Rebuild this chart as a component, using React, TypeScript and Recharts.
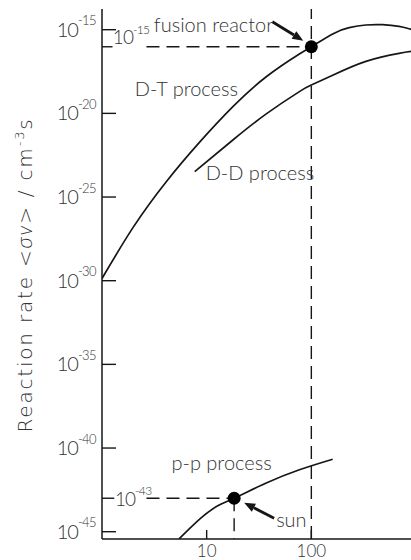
import React from "react";
import { LineChart, Line, XAxis, YAxis, ReferenceLine, ReferenceDot, Label } from "recharts";

// temperatures in keV, rates as log10 of <σv> in cm³/s
const dtTemp = [1, 1.99, 4.13, 8.57, 17.8, 37.1, 76.9, 100, 160, 230, 332, 478, 689, 857, 1000];
const dtLogRate = [-29.87, -26.8, -24.07, -21.72, -19.6, -17.81, -16.45, -16.02, -15.25, -14.88, -14.72, -14.7, -14.8, -14.94, -15.05];

const ddTemp = [7.69, 17.8, 37.1, 76.9, 100, 160, 332, 689, 1000];
const ddLogRate = [-23.48, -21.59, -20.03, -18.7, -18.31, -17.72, -16.89, -16.41, -16.26];

const ppTemp = [5.45, 8.57, 12.4, 18.3, 37.1, 76.9, 160];
const ppLogRate = [-45.43, -44.25, -43.5, -43.0, -42.09, -41.3, -40.67];

const xTicks = [10, 100];
const yTickExps = [-45, -40, -35, -30, -25, -20, -15];

const reactorTemp = 100;
const reactorLogRate = -16.02;
const sunTemp = 18.3;
const sunLogRate = -43;

const xDomain = [1, 1000];
const yLogDomain = [-45.436, -13.763];

const rows = (ts: number[], ls: number[]) => ts.map((t, i) => ({ t, rate: Math.pow(10, ls[i]) }));
const dtData = rows(dtTemp, dtLogRate);
const ddData = rows(ddTemp, ddLogRate);
const ppData = rows(ppTemp, ppLogRate);
const yTicks = yTickExps.map((e) => Math.pow(10, e));
const yDomain = yLogDomain.map((e) => Math.pow(10, e));
const reactorRate = Math.pow(10, reactorLogRate);
const sunRate = Math.pow(10, sunLogRate);

const INK = "#161616";
const TXT = "#333";
const FONT = "Lato, 'DejaVu Sans Condensed', sans-serif";
const DASH = "13 7";

const expOf = (v: number) => Math.round(Math.log10(v));

function LeftTick({ x, y, payload }: any) {
  return (
    <g>
      <line x1={x} x2={x + 14} y1={y} y2={y} stroke={INK} strokeWidth={1.4} />
      <text x={x - 6} y={y + 7} textAnchor="end" fontFamily={FONT} fontWeight={300} fontSize={20} letterSpacing={-1} fill={TXT}>
        10<tspan dy={-11.5} fontSize={13} letterSpacing={-0.6}>{expOf(payload.value)}</tspan>
      </text>
    </g>
  );
}

function RightTick({ x, y }: any) {
  return <line x1={x - 9} x2={x} y1={y} y2={y} stroke={INK} strokeWidth={1.4} />;
}

function TopTick({ x, y }: any) {
  return <line x1={x} x2={x} y1={y} y2={y + 9} stroke={INK} strokeWidth={1.4} />;
}

function BottomTick({ x, y, payload }: any) {
  return (
    <g>
      <line x1={x} x2={x} y1={y} y2={y - 9} stroke={INK} strokeWidth={1.4} />
      <text x={x} y={y + 18} textAnchor="middle" fontFamily={FONT} fontWeight={300} fontSize={17} fill={TXT}>
        {payload.value}
      </text>
    </g>
  );
}

function YTitle({ viewBox }: any) {
  const cx = viewBox.x + 32;
  const cy = viewBox.y + viewBox.height / 2 + 1;
  return (
    <text
      x={cx}
      y={cy}
      transform={`rotate(-90 ${cx} ${cy})`}
      textAnchor="middle"
      fontFamily="'DejaVu Sans', sans-serif"
      fontWeight={200}
      fontSize={20}
      letterSpacing={1.8}
      fill={TXT}
    >
      {"Reaction rate <"}
      <tspan fontFamily={FONT} fontWeight={300} fontStyle="italic" fontSize={21}>σv</tspan>
      {"> / cm"}
      <tspan dy={-8} fontSize={13}>-3</tspan>
      <tspan dy={8}>s</tspan>
    </text>
  );
}

const note = (text: string) => (p: any) => (
  <text x={p.cx} y={p.cy} fontFamily={FONT} fontWeight={300} fontSize={20} fill={TXT}>
    {text}
  </text>
);

const powerNote = (exp: number, dy: number) => (p: any) => (
  <text x={p.cx} y={p.cy + dy} fontFamily={FONT} fontWeight={300} fontSize={19} letterSpacing={-1} fill={TXT}>
    10<tspan dy={-10.5} fontSize={12} letterSpacing={-0.6}>{exp}</tspan>
  </text>
);

const arrow = (tail: number[], head: number[]) => (p: any) => {
  const x1 = p.cx + tail[0];
  const y1 = p.cy + tail[1];
  const x2 = p.cx + head[0];
  const y2 = p.cy + head[1];
  const a = Math.atan2(y2 - y1, x2 - x1);
  const len = 11;
  const w = 4.5;
  const bx = x2 - len * Math.cos(a);
  const by = y2 - len * Math.sin(a);
  const pts = [
    [x2, y2],
    [bx - w * Math.sin(a), by + w * Math.cos(a)],
    [bx + w * Math.sin(a), by - w * Math.cos(a)],
  ]
    .map((q) => q.join(","))
    .join(" ");
  return (
    <g>
      <line x1={x1} y1={y1} x2={bx} y2={by} stroke={INK} strokeWidth={2.8} />
      <polygon points={pts} fill={INK} />
    </g>
  );
};

export default function App() {
  return (
    <div style={{ position: "absolute", left: 0, top: 0, width: 411, height: 560, overflow: "hidden", background: "#fff" }}>
      <LineChart width={440} height={560} margin={{ top: 9, right: 24, bottom: 0, left: 0 }}>
        <XAxis
          dataKey="t"
          type="number"
          scale="log"
          domain={xDomain}
          allowDataOverflow
          ticks={xTicks}
          interval={0}
          height={21}
          tickSize={0}
          tickMargin={0}
          tick={<BottomTick />}
          axisLine={{ stroke: INK, strokeWidth: 1.5 }}
        />
        <XAxis
          xAxisId="top"
          orientation="top"
          dataKey="t"
          type="number"
          scale="log"
          domain={xDomain}
          allowDataOverflow
          ticks={xTicks}
          interval={0}
          height={0}
          tickSize={0}
          tickMargin={0}
          tick={<TopTick />}
          axisLine={{ stroke: INK, strokeWidth: 1.5 }}
        />
        <YAxis
          type="number"
          scale="log"
          domain={yDomain}
          allowDataOverflow
          ticks={yTicks}
          interval={0}
          width={102}
          tickSize={0}
          tickMargin={0}
          tick={<LeftTick />}
          axisLine={{ stroke: INK, strokeWidth: 1.5 }}
          label={<Label content={<YTitle />} />}
        />
        <YAxis
          yAxisId="right"
          orientation="right"
          type="number"
          scale="log"
          domain={yDomain}
          allowDataOverflow
          ticks={yTicks}
          interval={0}
          width={0}
          tickSize={0}
          tickMargin={0}
          tick={<RightTick />}
          axisLine={{ stroke: INK, strokeWidth: 1.5 }}
        />

        <ReferenceLine x={reactorTemp} stroke={INK} strokeWidth={1.4} strokeDasharray={DASH} />
        <ReferenceLine segment={[{ x: 1, y: reactorRate }, { x: 1.26, y: reactorRate }]} stroke={INK} strokeWidth={1.4} ifOverflow="visible" />
        <ReferenceLine
          segment={[{ x: 2.66, y: reactorRate }, { x: reactorTemp, y: reactorRate }]}
          stroke={INK}
          strokeWidth={1.4}
          strokeDasharray={DASH}
          ifOverflow="visible"
        />
        <ReferenceLine segment={[{ x: 1, y: sunRate }, { x: 1.31, y: sunRate }]} stroke={INK} strokeWidth={1.4} ifOverflow="visible" />
        <ReferenceLine
          segment={[{ x: 2.66, y: sunRate }, { x: sunTemp, y: sunRate }]}
          stroke={INK}
          strokeWidth={1.4}
          strokeDasharray={DASH}
          ifOverflow="visible"
        />
        <ReferenceLine
          segment={[{ x: sunTemp, y: sunRate }, { x: sunTemp, y: yDomain[0] }]}
          stroke={INK}
          strokeWidth={1.4}
          strokeDasharray={DASH}
          ifOverflow="visible"
        />

        <Line data={dtData} dataKey="rate" type="natural" dot={false} stroke={INK} strokeWidth={1.7} isAnimationActive={false} />
        <Line data={ddData} dataKey="rate" type="natural" dot={false} stroke={INK} strokeWidth={1.7} isAnimationActive={false} />
        <Line data={ppData} dataKey="rate" type="natural" dot={false} stroke={INK} strokeWidth={1.7} isAnimationActive={false} />

        <ReferenceDot x={reactorTemp} y={reactorRate} r={6.5} fill="#000" stroke="none" />
        <ReferenceDot x={sunTemp} y={sunRate} r={6.5} fill="#000" stroke="none" />
        <ReferenceDot x={reactorTemp} y={reactorRate} shape={arrow([-39, -25], [-8, -6])} />
        <ReferenceDot x={sunTemp} y={sunRate} shape={arrow([40, 20], [10, 4.5])} />

        <ReferenceDot x={3.13} y={Math.pow(10, -15.11)} shape={note("fusion reactor")} />
        <ReferenceDot x={2.06} y={Math.pow(10, -18.99)} shape={note("D-T process")} />
        <ReferenceDot x={9.78} y={Math.pow(10, -23.98)} shape={note("D-D process")} />
        <ReferenceDot x={4.61} y={Math.pow(10, -41.3)} shape={note("p-p process")} />
        <ReferenceDot x={46.1} y={Math.pow(10, -44.73)} shape={note("sun")} />
        <ReferenceDot x={1.27} y={reactorRate} shape={powerNote(-15, -2.5)} />
        <ReferenceDot x={1.33} y={sunRate} shape={powerNote(-43, 7.5)} />
      </LineChart>
    </div>
  );
}
